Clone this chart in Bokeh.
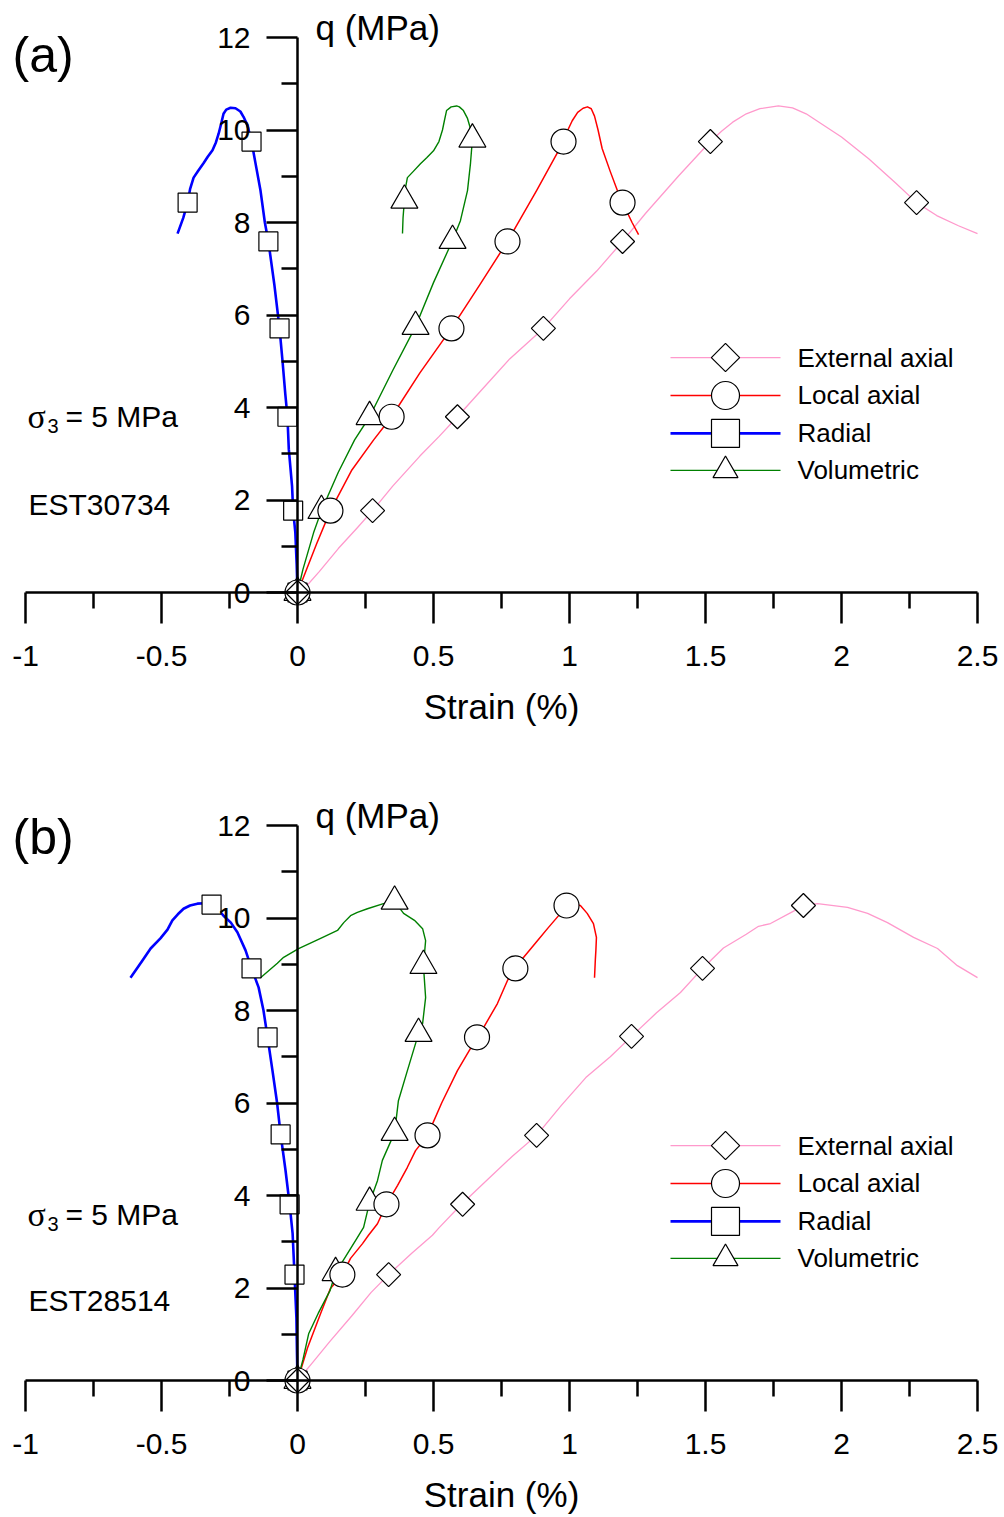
import math
from bokeh.plotting import figure
from bokeh.models import Range1d, FixedTicker
from bokeh.layouts import column
from bokeh.core.properties import value
from bokeh.embed import file_html
from bokeh.resources import INLINE

# ---------------- data: panel (a) EST30734 ----------------
ext_a_x = [0, 0.03, 0.08, 0.15, 0.22, 0.276, 0.35, 0.45, 0.52, 0.588, 0.68, 0.78, 0.904, 1.0, 1.10, 1.195,
           1.28, 1.40, 1.518, 1.56, 1.60, 1.65, 1.70, 1.768, 1.82, 1.87, 1.93, 2.0, 2.1, 2.2, 2.276,
           2.35, 2.43, 2.5]
ext_a_y = [0, 0.12, 0.45, 0.95, 1.4, 1.77, 2.3, 2.95, 3.37, 3.8, 4.4, 5.05, 5.71, 6.35, 6.95, 7.59,
           8.2, 9.0, 9.75, 9.98, 10.17, 10.35, 10.46, 10.52, 10.48, 10.35, 10.12, 9.85, 9.38, 8.85, 8.43,
           8.15, 7.93, 7.76]
loc_a_x = [0, 0.03, 0.07, 0.121, 0.2, 0.28, 0.346, 0.45, 0.566, 0.67, 0.772, 0.88, 0.978, 0.993, 1.01,
           1.03, 1.05, 1.066, 1.08, 1.092, 1.105, 1.12, 1.15, 1.176, 1.195, 1.23, 1.254]
loc_a_y = [0, 0.45, 1.05, 1.77, 2.65, 3.3, 3.8, 4.75, 5.71, 6.65, 7.59, 8.7, 9.75, 9.99, 10.2,
           10.38, 10.47, 10.5, 10.46, 10.3, 10.0, 9.6, 9.1, 8.69, 8.43, 8.0, 7.74]
rad_a_x = [0, -0.003, -0.008, -0.016, -0.02, -0.032, -0.037, -0.045, -0.055, -0.066, -0.085, -0.107,
           -0.12, -0.136, -0.155, -0.169, -0.184, -0.198, -0.21, -0.228, -0.246, -0.262, -0.272, -0.28,
           -0.29, -0.30, -0.3125, -0.33, -0.3456, -0.365, -0.382, -0.395, -0.404, -0.42, -0.441]
rad_a_y = [0, 0.6, 1.3, 1.77, 2.3, 3.1, 3.8, 4.3, 5.0, 5.71, 6.65, 7.59,
           8.0, 8.69, 9.3, 9.75, 10.1, 10.28, 10.4, 10.47, 10.48, 10.44, 10.35, 10.15,
           9.92, 9.73, 9.56, 9.42, 9.28, 9.12, 8.97, 8.72, 8.43, 8.1, 7.76]
vol_a_x = [0, 0.02, 0.059, 0.088, 0.15, 0.21, 0.265, 0.35, 0.434, 0.5, 0.57, 0.599, 0.625, 0.636, 0.643,
           0.635, 0.625, 0.61, 0.595, 0.585, 0.565, 0.548, 0.54, 0.533, 0.52, 0.5, 0.475, 0.452, 0.425,
           0.404, 0.397, 0.393, 0.388, 0.386]
vol_a_y = [0, 0.5, 1.29, 1.77, 2.6, 3.3, 3.8, 4.8, 5.75, 6.7, 7.61, 8.04, 8.69, 9.28, 9.8,
           10.05, 10.25, 10.42, 10.5, 10.52, 10.5, 10.42, 10.2, 10.0, 9.75, 9.55, 9.4, 9.27, 9.1,
           8.97, 8.75, 8.48, 8.1, 7.76]

ext_a_mx = [0, 0.276, 0.588, 0.904, 1.195, 1.518, 2.276]
ext_a_my = [0, 1.77, 3.8, 5.71, 7.59, 9.75, 8.43]
loc_a_mx = [0, 0.121, 0.346, 0.566, 0.772, 0.978, 1.195]
loc_a_my = [0, 1.77, 3.8, 5.71, 7.59, 9.75, 8.43]
rad_a_mx = [0, -0.016, -0.037, -0.066, -0.107, -0.169, -0.404]
rad_a_my = [0, 1.77, 3.8, 5.71, 7.59, 9.75, 8.43]
vol_a_mx = [0, 0.088, 0.265, 0.434, 0.57, 0.643, 0.393]
vol_a_my = [0, 1.77, 3.8, 5.75, 7.61, 9.8, 8.48]

# ---------------- data: panel (b) EST28514 ----------------
ext_b_x = [0, 0.05, 0.12, 0.2, 0.27, 0.335, 0.42, 0.496, 0.52, 0.603, 0.7, 0.79, 0.879, 0.97, 1.06, 1.15,
           1.228, 1.32, 1.408, 1.489, 1.566, 1.65, 1.695, 1.739, 1.824, 1.86, 1.912, 2.022, 2.096, 2.169,
           2.265, 2.353, 2.426, 2.5]
ext_b_y = [0, 0.35, 0.85, 1.4, 1.9, 2.29, 2.75, 3.14, 3.3, 3.81, 4.35, 4.85, 5.30, 5.95, 6.55, 7.0,
           7.44, 7.95, 8.39, 8.91, 9.35, 9.65, 9.82, 9.88, 10.15, 10.27, 10.31, 10.23, 10.1, 9.9,
           9.58, 9.34, 8.97, 8.71]
loc_b_x = [0, 0.037, 0.085, 0.121, 0.165, 0.195, 0.239, 0.261, 0.294, 0.327, 0.368, 0.404, 0.434, 0.478,
           0.53, 0.588, 0.66, 0.684, 0.735, 0.772, 0.801, 0.827, 0.882, 0.919, 0.967, 0.989, 1.015, 1.04,
           1.065, 1.088, 1.099, 1.097, 1.095, 1.092]
loc_b_y = [0, 0.71, 1.45, 1.99, 2.29, 2.64, 2.96, 3.14, 3.39, 3.81, 4.22, 4.61, 4.97, 5.30,
           6.0, 6.70, 7.42, 7.63, 8.15, 8.65, 8.91, 9.12, 9.51, 9.77, 10.1, 10.27, 10.3, 10.27,
           10.1, 9.88, 9.58, 9.3, 9.1, 8.71]
rad_b_x = [0, -0.002, -0.004, -0.011, -0.018, -0.029, -0.044, -0.062, -0.075, -0.092, -0.11, -0.125,
           -0.143, -0.169, -0.191, -0.221, -0.245, -0.272, -0.295, -0.316, -0.34, -0.368, -0.395, -0.419,
           -0.44, -0.46, -0.478, -0.504, -0.54, -0.57, -0.614]
rad_b_y = [0, 0.6, 1.36, 2.29, 3.18, 3.81, 4.54, 5.32, 6.0, 6.7, 7.42, 8.0,
           8.5, 8.91, 9.30, 9.69, 9.9, 10.05, 10.2, 10.29, 10.32, 10.31, 10.27, 10.2,
           10.08, 9.95, 9.75, 9.56, 9.34, 9.08, 8.71]
vol_b_x = [0, 0.02, 0.041, 0.076, 0.12, 0.14, 0.183, 0.22, 0.243, 0.265, 0.294, 0.312, 0.357, 0.371,
           0.404, 0.445, 0.46, 0.471, 0.463, 0.471, 0.46, 0.43, 0.39, 0.357, 0.316, 0.257, 0.22, 0.195,
           0.17, 0.147, 0.085, 0.004, -0.051, -0.074, -0.136]
vol_b_y = [0, 0.45, 1.01, 1.45, 1.95, 2.33, 2.74, 3.09, 3.31, 3.85, 4.32, 4.76, 5.36, 6.05,
           6.70, 7.5, 7.72, 8.28, 8.97, 9.51, 9.77, 9.95, 10.1, 10.36, 10.31, 10.2, 10.12, 10.05,
           9.9, 9.73, 9.56, 9.34, 9.15, 9.02, 8.71]

ext_b_mx = [0, 0.335, 0.607, 0.879, 1.228, 1.489, 1.86]
ext_b_my = [0, 2.29, 3.81, 5.30, 7.44, 8.91, 10.27]
loc_b_mx = [0, 0.165, 0.327, 0.478, 0.66, 0.801, 0.989]
loc_b_my = [0, 2.29, 3.81, 5.30, 7.42, 8.91, 10.27]
rad_b_mx = [0, -0.011, -0.029, -0.062, -0.11, -0.169, -0.316]
rad_b_my = [0, 2.29, 3.81, 5.32, 7.42, 8.91, 10.29]
vol_b_mx = [0, 0.14, 0.265, 0.357, 0.445, 0.463, 0.357]
vol_b_my = [0, 2.33, 3.85, 5.36, 7.5, 8.97, 10.36]

# ---------------- axes / labels ----------------
x_ticks = [-1, -0.5, 0, 0.5, 1, 1.5, 2, 2.5]
x_minor = [-0.75, -0.25, 0.25, 0.75, 1.25, 1.75, 2.25]
y_ticks = [0, 2, 4, 6, 8, 10, 12]
y_minor = [1, 3, 5, 7, 9, 11]
series_names = ["External axial", "Local axial", "Radial", "Volumetric"]

FONT = "Liberation Sans"
PX_X = 272.0    # pixels per strain unit
PX_Y = 46.25    # pixels per MPa

STYLE = {
    "External axial": dict(color="#ff99cc", width=1.3, marker="square", size=17, angle=math.pi / 4, lsize=20),
    "Local axial": dict(color="#ff0000", width=1.5, marker="circle", size=25, angle=0.0, lsize=28),
    "Radial": dict(color="#0000ff", width=2.6, marker="square", size=19, angle=0.0, lsize=28),
    "Volumetric": dict(color="#008000", width=1.4, marker="triangle", size=27, angle=0.0, lsize=25),
}


def make_panel(height, zero_px, curves, marks, tag, tag_y, specimen, sig_y, est_y):
    # zero_px: pixel row (from top of this figure) of q = 0
    y_top = (zero_px) / PX_Y
    y_bot = -(height - zero_px) / PX_Y
    p = figure(width=1004, height=height, output_backend="svg", toolbar_location=None,
               x_range=Range1d(-1 - 25 / PX_X, 2.5 + 27 / PX_X),
               y_range=Range1d(y_bot, y_top),
               min_border=0, min_border_left=0, min_border_right=0,
               min_border_top=0, min_border_bottom=0)
    p.outline_line_color = None
    p.grid.visible = False
    p.background_fill_color = "white"
    p.border_fill_color = "white"

    xa = p.xaxis[0]
    xa.fixed_location = 0
    xa.bounds = (-1, 2.5)
    xa.ticker = FixedTicker(ticks=x_ticks, minor_ticks=x_minor)
    xa.major_label_overrides = {-1: "-1", -0.5: "-0.5", 0: "0", 0.5: "0.5", 1: "1",
                                1.5: "1.5", 2: "2", 2.5: "2.5"}
    xa.axis_line_width = 2.5
    xa.major_tick_line_width = 2.5
    xa.minor_tick_line_width = 2.5
    xa.major_tick_in = 0
    xa.major_tick_out = 31
    xa.minor_tick_in = 0
    xa.minor_tick_out = 16
    xa.major_label_text_font = FONT
    xa.major_label_text_font_size = "30px"
    xa.major_label_text_color = "black"
    xa.major_label_standoff = 22
    xa.axis_label = "Strain (%)"
    xa.axis_label_text_font = FONT
    xa.axis_label_text_font_size = "35px"
    xa.axis_label_text_font_style = "normal"
    xa.axis_label_text_color = "black"
    xa.axis_label_standoff = 18

    ya = p.yaxis[0]
    ya.fixed_location = 0
    ya.bounds = (0, 12)
    ya.ticker = FixedTicker(ticks=y_ticks, minor_ticks=y_minor)
    ya.axis_line_width = 2.5
    ya.major_tick_line_width = 2.5
    ya.minor_tick_line_width = 2.5
    ya.major_tick_in = 0
    ya.major_tick_out = 31
    ya.minor_tick_in = 0
    ya.minor_tick_out = 16
    ya.major_label_text_font = FONT
    ya.major_label_text_font_size = "30px"
    ya.major_label_text_color = "black"
    ya.major_label_standoff = 16
    ya.major_label_orientation = "horizontal"

    # curves (lines first, then markers)
    for name in series_names:
        xs, ys = curves[name]
        st = STYLE[name]
        p.line(xs, ys, line_color=st["color"], line_width=st["width"], line_join="round")
    for name in ["Radial", "Volumetric", "Local axial", "External axial"]:
        mx, my = marks[name]
        st = STYLE[name]
        p.scatter(mx, my, marker=st["marker"], size=st["size"], angle=st["angle"],
                  fill_color="white", line_color="black", line_width=1.2)

    # legend (drawn in the figure's own coordinates)
    leg_y = [5.08, 4.26, 3.44, 2.64]
    lx0, lx1, lxm, ltx = (670 - 297) / PX_X, (780 - 297) / PX_X, (725 - 297) / PX_X, (797 - 297) / PX_X
    for name, yy in zip(series_names, leg_y):
        st = STYLE[name]
        p.line([lx0, lx1], [yy, yy], line_color=st["color"], line_width=st["width"])
        p.scatter([lxm], [yy], marker=st["marker"], size=st["lsize"], angle=st["angle"],
                  fill_color="white", line_color="black", line_width=1.2)
    p.text(x=[ltx] * 4, y=leg_y, text=series_names, text_font=value(FONT),
           text_font_size="26px", text_baseline="middle", text_align="left", text_color="black")

    # y label, panel tag and annotations
    p.text(x=[18 / PX_X], y=[12.22], text=["q (MPa)"], text_font=value(FONT), text_font_size="35px",
           text_baseline="middle", text_align="left", text_color="black")
    p.text(x=[(12 - 297) / PX_X], y=[tag_y], text=[tag], text_font=value(FONT), text_font_size="50px",
           text_baseline="middle", text_align="left", text_color="black")
    p.text(x=[(27 - 297) / PX_X], y=[sig_y], text=["σ"], text_font=value("Liberation Serif"),
           text_font_size="34px", text_baseline="alphabetic", text_align="left", text_color="black")
    p.text(x=[(47 - 297) / PX_X], y=[sig_y - 0.2], text=["3"], text_font=value(FONT),
           text_font_size="20px", text_baseline="alphabetic", text_align="left", text_color="black")
    p.text(x=[(65 - 297) / PX_X], y=[sig_y], text=["= 5 MPa"], text_font=value(FONT),
           text_font_size="30px", text_baseline="alphabetic", text_align="left", text_color="black")
    p.text(x=[(28 - 297) / PX_X], y=[est_y], text=[specimen], text_font=value(FONT),
           text_font_size="30px", text_baseline="alphabetic", text_align="left", text_color="black")
    return p


curves_a = {"External axial": (ext_a_x, ext_a_y), "Local axial": (loc_a_x, loc_a_y),
            "Radial": (rad_a_x, rad_a_y), "Volumetric": (vol_a_x, vol_a_y)}
marks_a = {"External axial": (ext_a_mx, ext_a_my), "Local axial": (loc_a_mx, loc_a_my),
           "Radial": (rad_a_mx, rad_a_my), "Volumetric": (vol_a_mx, vol_a_my)}
curves_b = {"External axial": (ext_b_x, ext_b_y), "Local axial": (loc_b_x, loc_b_y),
            "Radial": (rad_b_x, rad_b_y), "Volumetric": (vol_b_x, vol_b_y)}
marks_b = {"External axial": (ext_b_mx, ext_b_my), "Local axial": (loc_b_mx, loc_b_my),
           "Radial": (rad_b_mx, rad_b_my), "Volumetric": (vol_b_mx, vol_b_my)}

pa = make_panel(760, 592, curves_a, marks_a, "(a)", 11.62, "EST30734", 3.81, 1.91)
pb = make_panel(757, 620, curves_b, marks_b, "(b)", 11.75, "EST28514", 3.59, 1.73)

layout = column(pa, pb, spacing=0)
open("out.html", "w").write(file_html(layout, INLINE))
